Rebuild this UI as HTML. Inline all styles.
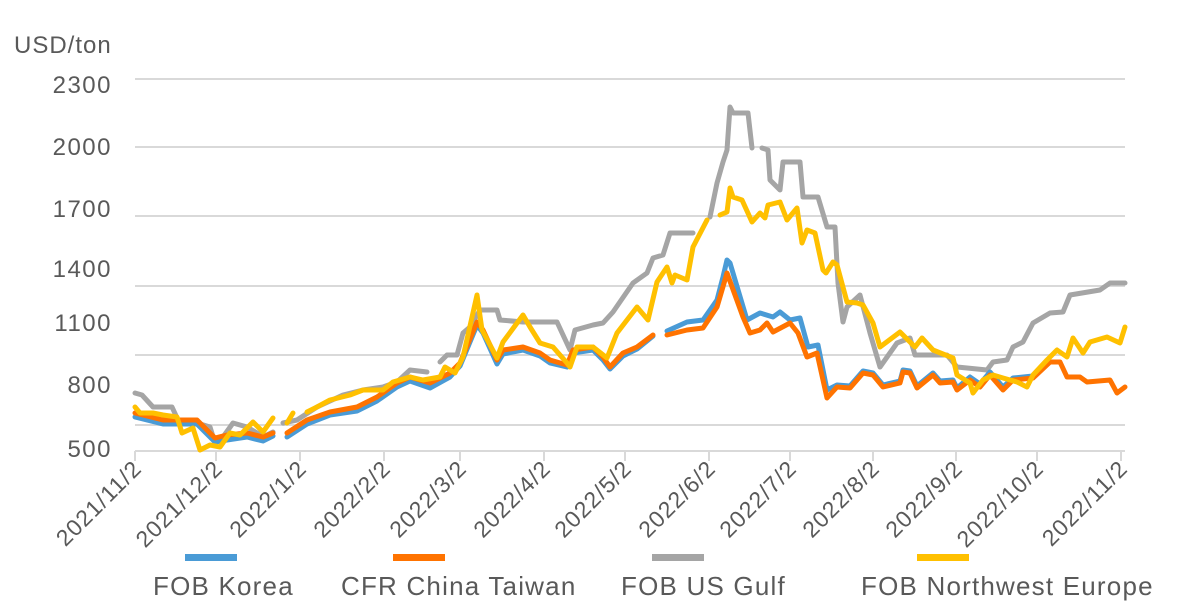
<!DOCTYPE html>
<html><head><meta charset="utf-8"><style>
html,body{margin:0;padding:0;background:#fff;}
svg{display:block;font-family:"Liberation Sans",sans-serif;}
</style></head><body>
<svg width="1196" height="616" viewBox="0 0 1196 616">
<g stroke="#d9d9d9" stroke-width="2">
<line x1="135" y1="79" x2="1125" y2="79"/>
<line x1="135" y1="147" x2="1125" y2="147"/>
<line x1="135" y1="216" x2="1125" y2="216"/>
<line x1="135" y1="286" x2="1125" y2="286"/>
<line x1="135" y1="355" x2="1125" y2="355"/>
<line x1="135" y1="425" x2="1125" y2="425"/>
<line x1="135" y1="451" x2="1125" y2="451"/>
<line x1="135" y1="451" x2="135" y2="461"/><line x1="216" y1="451" x2="216" y2="461"/>
<line x1="300" y1="451" x2="300" y2="461"/><line x1="384" y1="451" x2="384" y2="461"/>
<line x1="460" y1="451" x2="460" y2="461"/><line x1="544" y1="451" x2="544" y2="461"/>
<line x1="625" y1="451" x2="625" y2="461"/><line x1="709" y1="451" x2="709" y2="461"/>
<line x1="790" y1="451" x2="790" y2="461"/><line x1="873" y1="451" x2="873" y2="461"/>
<line x1="956" y1="451" x2="956" y2="461"/><line x1="1037" y1="451" x2="1037" y2="461"/>
<line x1="1121" y1="451" x2="1121" y2="461"/>
</g>
<g fill="#595959" font-size="24" letter-spacing="1.5">
<text x="14" y="53" letter-spacing="1">USD/ton</text>
<text x="112" y="93" text-anchor="end">2300</text>
<text x="112" y="155" text-anchor="end">2000</text>
<text x="112" y="217" text-anchor="end">1700</text>
<text x="112" y="277" text-anchor="end">1400</text>
<text x="112" y="331" text-anchor="end">1100</text>
<text x="112" y="393" text-anchor="end">800</text>
<text x="112" y="457" text-anchor="end">500</text>
</g>
<g fill="#595959" font-size="23" letter-spacing="1" text-anchor="end">
<text transform="translate(143,470) rotate(-45)">2021/11/2</text>
<text transform="translate(224,470) rotate(-45)">2021/12/2</text>
<text transform="translate(308,470) rotate(-45)">2022/1/2</text>
<text transform="translate(392,470) rotate(-45)">2022/2/2</text>
<text transform="translate(468,470) rotate(-45)">2022/3/2</text>
<text transform="translate(552,470) rotate(-45)">2022/4/2</text>
<text transform="translate(633,470) rotate(-45)">2022/5/2</text>
<text transform="translate(717,470) rotate(-45)">2022/6/2</text>
<text transform="translate(798,470) rotate(-45)">2022/7/2</text>
<text transform="translate(881,470) rotate(-45)">2022/8/2</text>
<text transform="translate(964,470) rotate(-45)">2022/9/2</text>
<text transform="translate(1045,470) rotate(-45)">2022/10/2</text>
<text transform="translate(1129,470) rotate(-45)">2022/11/2</text>
</g>
<g fill="none" stroke-width="5" stroke-linejoin="round" stroke-linecap="round">
<g stroke="#a5a5a5">
<polyline points="135,393 142,395 153,407 172,407 178,420 197,423 210,427 215,443 223,437 233,423 247,427 257,433 263,437 273,432"/>
<polyline points="283,423 297,420 317,407 343,395 363,390 383,387 397,382 410,370 427,372"/>
<polyline points="440,362 447,355 457,355 463,333 470,327 480,310 497,310 500,320 523,322 557,322 570,350 575,330 593,325 603,323 613,312 633,283 647,273 653,258 663,255 670,233 693,233"/>
<polyline points="710,217 717,183 723,162 727,150 730,107 733,113 748,113 752,148"/>
<polyline points="762,148 768,150 770,180 780,190 783,162 800,162 803,197 818,197 827,227 835,227 838,283 843,322 847,307 860,295 870,333 880,367 897,343 910,338 915,355 947,355 957,367 987,370 993,362 1007,360 1013,347 1023,342 1033,323 1050,313 1063,312 1070,295 1100,290 1110,283 1125,283"/>
</g>
<g stroke="#4a9bd6">
<polyline points="135,417 163,424 197,424 215,442 227,440 247,437 263,441 273,436"/>
<polyline points="287,437 307,424 330,415 357,411 377,401 397,387 410,381 430,388 450,377 460,366 477,325 483,333 497,364 503,354 523,350 540,356 550,363 567,367 573,353 593,350 603,360 610,369 623,356 637,349 653,336"/>
<polyline points="667,331 687,322 703,320 717,300 723,277 727,260 730,263 747,320 760,313 773,317 780,312 790,320 800,318 808,347 818,345 827,390 837,385 850,386 863,371 873,373 883,385 900,381 903,370 910,371 917,386 933,373 940,381 953,380 957,388 970,377 980,384 990,372 1003,387 1013,378 1033,376"/>
</g>
<g stroke="#ff7300">
<polyline points="135,413 163,420 197,420 215,438 227,435 247,433 263,437 273,433"/>
<polyline points="287,433 307,420 330,412 357,407 377,397 397,383 410,377 430,383 450,373 460,363 477,322 483,330 497,360 503,350 523,347 540,353 550,360 567,365 573,350 593,347 603,357 610,367 623,353 637,347 653,335"/>
<polyline points="667,335 687,330 703,328 717,307 727,273 743,317 750,333 760,330 767,323 773,332 790,323 798,333 807,357 817,353 827,398 837,387 850,388 863,373 873,375 883,387 900,383 903,372 910,373 917,388 933,375 940,383 953,382 957,390 970,380 980,387 990,375 1003,390 1013,380 1033,378 1050,362 1060,362 1067,377 1080,377 1087,382 1110,380 1117,393 1125,387"/>
</g>
<g stroke="#ffc000">
<polyline points="135,407 140,413 153,413 163,415 177,417 182,433 193,428 200,450 210,445 220,447 230,433 240,435 253,422 263,432 273,418"/>
<polyline points="287,423 293,413"/>
<polyline points="307,412 317,407 330,400 350,395 363,390 383,390 393,382 410,377 423,380 440,377 445,367 455,373 463,357 477,295 482,330 497,358 503,342 523,315 530,327 540,343 553,347 567,363 570,367 577,347 593,347 607,358 617,333 637,307 648,320 657,282 667,267 672,283 675,275 687,280 693,247 707,220"/>
<polyline points="720,215 727,212 730,188 733,197 742,200 752,222 760,213 765,218 768,205 780,202 787,220 797,208 802,243 807,230 815,233 823,270 826,273 833,262 837,265 847,302 857,303 863,305 873,323 880,347 900,332 915,347 922,338 933,350 953,358 957,375 970,383 973,393 983,380 993,375 1003,378 1017,382 1027,387 1033,375 1047,360 1057,350 1067,357 1073,338 1083,353 1090,342 1107,337 1120,343 1125,327"/>
</g>
</g>
<g>
<rect x="185" y="554" width="52" height="7" fill="#4a9bd6"/>
<rect x="393" y="554" width="52" height="7" fill="#ff7300"/>
<rect x="652" y="554" width="52" height="7" fill="#a5a5a5"/>
<rect x="917" y="554" width="52" height="7" fill="#ffc000"/>
</g>
<g fill="#595959" font-size="26" letter-spacing="1.2">
<text x="153" y="595">FOB Korea</text>
<text x="341" y="595">CFR China Taiwan</text>
<text x="621" y="595">FOB US Gulf</text>
<text x="861" y="595">FOB Northwest Europe</text>
</g>
</svg>
</body></html>
